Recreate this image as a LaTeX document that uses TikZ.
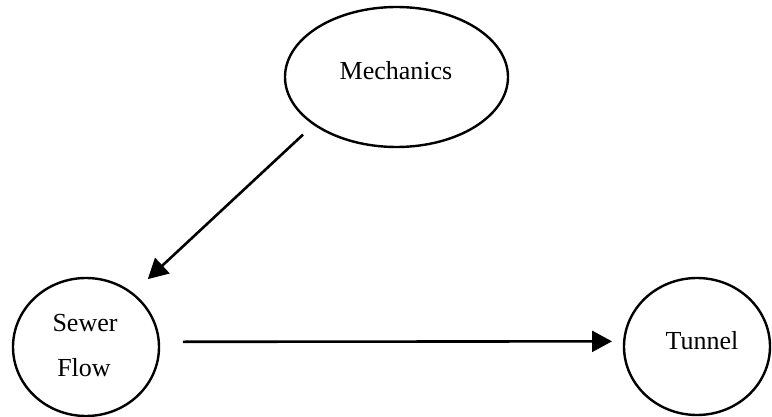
\documentclass[tikz,border=0pt]{standalone}
\usepackage{fontspec}
\setmainfont{Liberation Serif}
\usetikzlibrary{shapes.geometric,arrows.meta}
\begin{document}
\begin{tikzpicture}[x=1pt,y=-1pt,
  oval/.style={draw=black,ellipse,line width=2.4pt,inner sep=0pt},
  lbl/.style={inner sep=0pt,font=\fontsize{26}{31}\selectfont},
  conn/.style={line width=2.6pt,-{Triangle[length=20pt,width=21pt]}}]
\useasboundingbox (0,0) rectangle (772,417);
\node[oval,minimum width=223pt,minimum height=140pt] (mech) at (396.5,77) {};
\node[oval,minimum width=146pt,minimum height=138pt] (sewer) at (86,347) {};
\node[oval,minimum width=146pt,minimum height=137pt] (tunnel) at (697,346.5) {};
\node[lbl] (mechtext) at (396,71) {Mechanics};
\node[lbl] (sewertext) at (85,323) {Sewer};
\node[lbl] (flowtext) at (84,368) {Flow};
\node[lbl] (tunneltext) at (702,341) {Tunnel};
\draw[conn,shorten <=14pt,shorten >=20pt] (mech.210) -- (sewer.49.5);
\draw[conn,shorten <=23pt,shorten >=11pt] (sewer.4) -- (tunnel.176);
\end{tikzpicture}
\end{document}
